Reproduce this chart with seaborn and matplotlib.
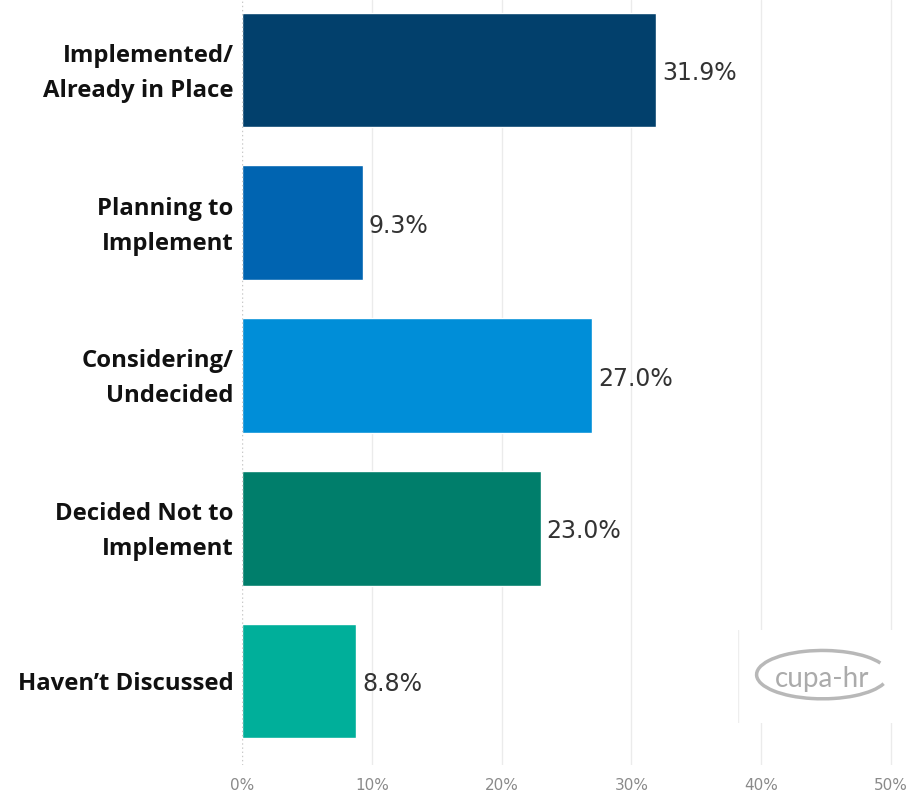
import matplotlib
matplotlib.use("Agg")
import matplotlib.pyplot as plt
import matplotlib.transforms as mtransforms
from matplotlib.patches import Rectangle, Arc
import seaborn as sns
import pandas as pd

categories = ["Implemented/\nAlready in Place", "Planning to\nImplement", "Considering/\nUndecided",
              "Decided Not to\nImplement", "Haven\u2019t Discussed"]
values = [31.9, 9.3, 27.0, 23.0, 8.8]
colors = ["#02406C", "#0064B1", "#008ED8", "#007E6B", "#00AF9A"]
tick_values = [0, 10, 20, 30, 40, 50]
tick_labels = ["0%", "10%", "20%", "30%", "40%", "50%"]

df = pd.DataFrame({"status": categories, "pct": values})

sns.set_theme(style="white")
plt.rcParams["font.family"] = ["Open Sans", "DejaVu Sans"]

W, H = 907, 795
fig = plt.figure(figsize=(W / 100, H / 100), dpi=100)
ax = fig.add_axes([242 / W, 1 - 765 / H, (905 - 242) / W, 765 / H])

sns.barplot(data=df, x="pct", y="status", hue="status", palette=colors,
            legend=False, width=0.75, saturation=1, ax=ax, zorder=3)

x_max = (905 - 242) / 12.98
ax.set_xlim(0, x_max)
ax.set_ylim(4.55, -0.458)

for xv in tick_values[1:]:
    ax.axvline(xv, color="#EBEBEB", lw=1, zorder=0)
ax.axvline(0, color="#C8C8C8", lw=1, ls=(0, (1, 2)), zorder=4)

for i, v in enumerate(values):
    ax.text(v + 0.45, i + 0.02, f"{v:.1f}%", va="center", ha="left", fontsize=17,
            color="#333333", family=["DejaVu Sans"])

ax.set_xticks(tick_values)
ax.set_xticklabels(tick_labels, color="#8A8A8A", fontsize=11, family=["DejaVu Sans"])
ax.tick_params(axis="x", length=0, pad=9)
ax.set_yticks(range(len(categories)))
ax.set_yticklabels(categories, fontsize=17.2, fontweight="bold", color="#111111",
                   linespacing=1.6)
ax.tick_params(axis="y", length=0, pad=6)
# nudge the two-line category labels up to sit centred on their bars
lift = mtransforms.ScaledTranslation(0, 5 / 100, fig.dpi_scale_trans)
for lbl in ax.get_yticklabels():
    if "\n" in lbl.get_text():
        lbl.set_transform(lbl.get_transform() + lift)
ax.set_xlabel("")
ax.set_ylabel("")
for s in ax.spines.values():
    s.set_visible(False)

# logo box in the lower right
lax = fig.add_axes([738 / W, 1 - 723 / H, (907 - 738) / W, (723 - 630) / H])
lax.set_xlim(0, 1)
lax.set_ylim(0, 1)
lax.axis("off")
lax.add_patch(Rectangle((0, 0), 1, 1, facecolor="white", edgecolor="none"))
lax.plot([0.0, 0.0], [0.0, 1.0], color="#EEEEEE", lw=1)
lax.add_patch(Arc((0.5, 0.52), 0.78, 0.52, theta1=20, theta2=345, color="#B8B8B8", lw=2.5))
lax.text(0.5, 0.47, "cupa-hr", ha="center", va="center", fontsize=20,
         color="#ABABAB", family=["Lato", "DejaVu Sans"])

fig.savefig("out.png", dpi=100)
